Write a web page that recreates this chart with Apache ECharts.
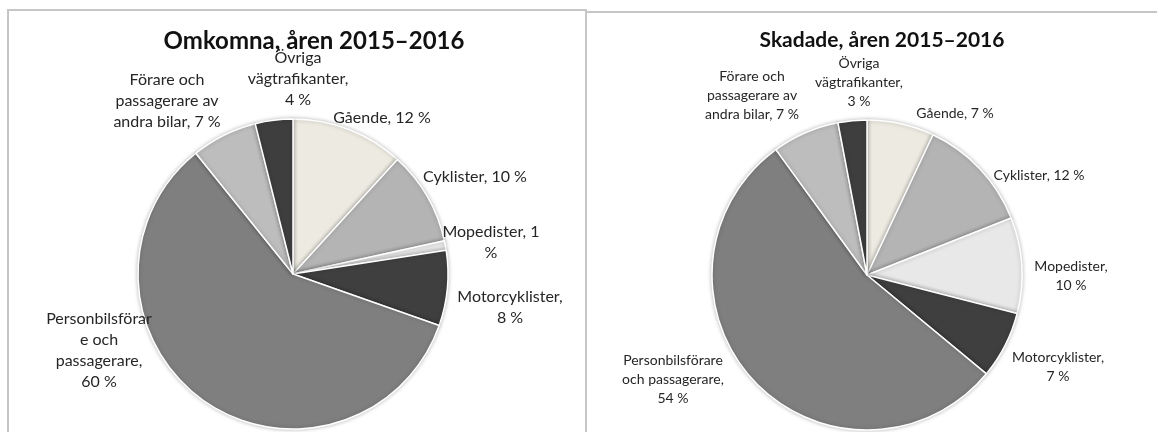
<!DOCTYPE html>
<html>
<head>
<meta charset="utf-8">
<title>Omkomna och skadade, åren 2015–2016</title>
<script src="https://cdn.jsdelivr.net/npm/echarts@6/dist/echarts.min.js"></script>
<style>
  html, body { margin: 0; padding: 0; background: #fff; }
  #wrap { position: relative; width: 1157px; height: 432px; overflow: hidden; }
  .panel { position: absolute; border: 2px solid #c6c6c6; box-sizing: border-box; }
  #chart { position: absolute; left: 0; top: 0; width: 1157px; height: 432px; }
</style>
</head>
<body>
<div id="wrap">
  <div class="panel" style="left:7px; top:9px; width:580px; height:480px;"></div>
  <div class="panel" style="left:585px; top:11px; width:600px; height:480px;"></div>
  <div id="chart"></div>
</div>
<script>
// categories, clockwise from 12 o'clock
const categories = [
  "Gående",
  "Cyklister",
  "Mopedister",
  "Motorcyklister",
  "Personbilsförare och passagerare",
  "Förare och passagerare av andra bilar",
  "Övriga vägtrafikanter"
];

// percent values
const omkomnaValues = [12, 10, 1, 8, 60, 7, 4];
const skadadeValues = [7, 12, 10, 7, 54, 7, 3];

// label text as wrapped in the original ({v} = value)
const omkomnaLabels = [
  "Gående, {v} %",
  "Cyklister, {v} %",
  "Mopedister, {v}\n%",
  "Motorcyklister,\n{v} %",
  "Personbilsförar\ne och\npassagerare,\n{v} %",
  "Förare och\npassagerare av\nandra bilar, {v} %",
  "Övriga\nvägtrafikanter,\n{v} %"
];
const skadadeLabels = [
  "Gående, {v} %",
  "Cyklister, {v} %",
  "Mopedister,\n{v} %",
  "Motorcyklister,\n{v} %",
  "Personbilsförare\noch passagerare,\n{v} %",
  "Förare och\npassagerare av\nandra bilar, {v} %",
  "Övriga\nvägtrafikanter,\n{v} %"
];

const sliceColors = ["#eceae1", "#b4b4b4", "#e8e8e8", "#3f3f3f", "#7f7f7f", "#bdbdbd", "#3e3e3e"];

// label anchors, offset from each pie centre
const omkomnaLabelOffsets = [[89, -156], [182, -97], [198, -32], [217, 33], [-194, 76], [-126, -173], [5, -195]];
const skadadeLabelOffsets = [[88, -162], [172, -100], [204, 1], [191, 92], [-194, 104], [-115, -180], [-8, -193]];

const pieCenters = [[293, 274], [867, 275]];

function makeSeries(values, labels, offsets, center, fontSize, lineHeight) {
  return {
    type: "pie",
    center: center,
    radius: 155,
    startAngle: 90,
    clockwise: true,
    avoidLabelOverlap: false,
    animation: false,
    data: categories.map((c, i) => ({
      name: c,
      value: values[i],
      itemStyle: { color: sliceColors[i] }
    })),
    itemStyle: {
      borderColor: "#ffffff",
      borderWidth: 1.5,
      shadowBlur: 4,
      shadowColor: "rgba(0,0,0,0.25)"
    },
    label: {
      show: true,
      position: "outside",
      formatter: (p) => labels[p.dataIndex].replace("{v}", p.value),
      fontFamily: "Lato",
      fontSize: fontSize,
      lineHeight: lineHeight,
      color: "#262626"
    },
    labelLine: { show: false },
    labelLayout: (p) => ({
      x: center[0] + offsets[p.dataIndex][0],
      y: center[1] + offsets[p.dataIndex][1],
      align: "center",
      verticalAlign: "middle"
    })
  };
}

const chart = echarts.init(document.getElementById("chart"));
chart.setOption({
  title: [
    {
      text: "Omkomna, åren 2015–2016",
      left: 309, top: 24, textAlign: "center",
      textStyle: { fontFamily: "Lato", fontWeight: "bold", fontSize: 24, color: "#111" }
    },
    {
      text: "Skadade, åren 2015–2016",
      left: 877, top: 25, textAlign: "center",
      textStyle: { fontFamily: "Lato", fontWeight: "bold", fontSize: 21, color: "#111" }
    }
  ],
  series: [
    makeSeries(omkomnaValues, omkomnaLabels, omkomnaLabelOffsets, pieCenters[0], 16, 21),
    makeSeries(skadadeValues, skadadeLabels, skadadeLabelOffsets, pieCenters[1], 14, 19)
  ]
});
</script>
</body>
</html>
